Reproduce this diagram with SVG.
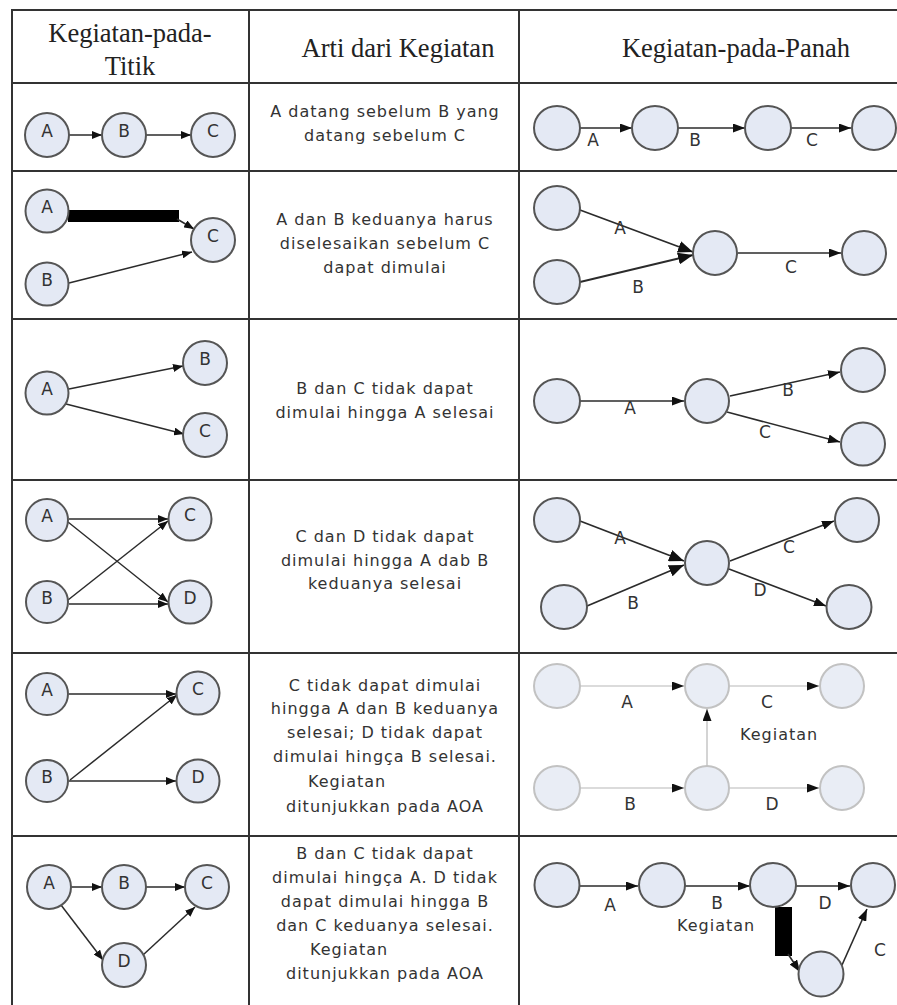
<svg xmlns="http://www.w3.org/2000/svg" width="897" height="1005" viewBox="0 0 897 1005">
  <defs>
    <style>
      .grid { stroke:#333; stroke-width:2; fill:none; }
      .hdr { font-family:"Liberation Serif","Times New Roman",serif; font-size:26.5px; fill:#222; text-anchor:middle; }
      .desc { font-family:"DejaVu Sans",Verdana,sans-serif; font-size:16px; letter-spacing:1px; fill:#333; text-anchor:middle; }
      .desc .l { text-anchor:start; }
      .n circle, .n ellipse { fill:#e4e9f4; stroke:#555; stroke-width:2; }
      .nf ellipse { fill:#e9edf5; stroke:#c2c2c2; stroke-width:2; }
      .lbl { font-family:"DejaVu Sans",Verdana,sans-serif; font-size:17px; fill:#333; text-anchor:middle; }
      .e { stroke:#2b2b2b; stroke-width:1.5; fill:none; marker-end:url(#ah); }
      .e3 { stroke:#2b2b2b; stroke-width:1.6; fill:none; marker-end:url(#ahL); }
      .eb { stroke:#2b2b2b; stroke-width:1.8; fill:none; marker-end:url(#ahB); }
      .ef { stroke:#b8b8b8; stroke-width:1.2; fill:none; marker-end:url(#ahL); }
      .thick { stroke:#000; fill:none; stroke-linecap:butt; }
    </style>
    <marker id="ah" markerUnits="userSpaceOnUse" markerWidth="10" markerHeight="8" refX="10" refY="4" orient="auto">
      <path d="M0,0 L10,4 L0,8 z" fill="#111"/>
    </marker>
    <marker id="ahL" markerUnits="userSpaceOnUse" markerWidth="12" markerHeight="9" refX="12" refY="4.5" orient="auto">
      <path d="M0,0 L12,4.5 L0,9 z" fill="#111"/>
    </marker>
    <marker id="ahB" markerUnits="userSpaceOnUse" markerWidth="15" markerHeight="12" refX="15" refY="6" orient="auto">
      <path d="M0,0 L15,6 L0,12 z" fill="#111"/>
    </marker>
  </defs>

  <rect width="897" height="1005" fill="#fff"/>

  <!-- table grid -->
  <g id="grid" class="grid">
    <line x1="12" y1="10" x2="897" y2="10"/>
    <line x1="12" y1="83" x2="897" y2="83"/>
    <line x1="12" y1="171" x2="897" y2="171"/>
    <line x1="12" y1="319" x2="897" y2="319"/>
    <line x1="12" y1="480" x2="897" y2="480"/>
    <line x1="12" y1="653" x2="897" y2="653"/>
    <line x1="12" y1="836" x2="897" y2="836"/>
    <line x1="12" y1="9" x2="12" y2="1005"/>
    <line x1="249" y1="9" x2="249" y2="1005"/>
    <line x1="519" y1="9" x2="519" y2="1005"/>
  </g>

  <!-- column headers -->
  <g id="headers" class="hdr">
    <text x="130" y="42">Kegiatan-pada-</text>
    <text x="130" y="75">Titik</text>
    <text x="398" y="57">Arti dari Kegiatan</text>
    <text x="736" y="57">Kegiatan-pada-Panah</text>
  </g>

  <!-- meaning column -->
  <g id="descriptions" class="desc">
    <text x="385" y="117">A datang sebelum B yang</text>
    <text x="385" y="141">datang sebelum C</text>

    <text x="385" y="225">A dan B keduanya harus</text>
    <text x="385" y="249">diselesaikan sebelum C</text>
    <text x="385" y="273">dapat dimulai</text>

    <text x="385" y="394">B dan C tidak dapat</text>
    <text x="385" y="418">dimulai hingga A selesai</text>

    <text x="385" y="542">C dan D tidak dapat</text>
    <text x="385" y="566">dimulai hingga A dab B</text>
    <text x="385" y="589">keduanya selesai</text>

    <text x="385" y="691">C tidak dapat dimulai</text>
    <text x="385" y="714">hingga A dan B keduanya</text>
    <text x="385" y="738">selesai; D tidak dapat</text>
    <text x="385" y="762">dimulai hingça B selesai.</text>
    <text class="l" x="308" y="787">Kegiatan</text>
    <text x="385" y="812">ditunjukkan pada AOA</text>

    <text x="385" y="859">B dan C tidak dapat</text>
    <text x="385" y="883">dimulai hingça A. D tidak</text>
    <text x="385" y="907">dapat dimulai hingga B</text>
    <text x="385" y="931">dan C keduanya selesai.</text>
    <text class="l" x="310" y="955">Kegiatan</text>
    <text x="385" y="979">ditunjukkan pada AOA</text>
  </g>

  <!-- connectors -->
  <g id="connectors">
    <!-- activity-on-node, row 1 -->
    <line class="e" x1="69" y1="135" x2="102" y2="135"/>
    <line class="e" x1="146" y1="135" x2="191" y2="135"/>
    <!-- row 2 -->
    <path class="thick" d="M68,216 H179" stroke-width="12"/>
    <line class="e" x1="177" y1="219" x2="194" y2="229" stroke-width="2.5"/>
    <line class="e" x1="69" y1="283" x2="192" y2="252"/>
    <!-- row 3 -->
    <line class="e" x1="69" y1="389" x2="183" y2="366"/>
    <line class="e" x1="66" y1="404" x2="184" y2="434"/>
    <!-- row 4 -->
    <line class="e" x1="69" y1="519" x2="168" y2="519"/>
    <line class="e" x1="68" y1="522" x2="168" y2="602"/>
    <line class="e" x1="68" y1="600" x2="168" y2="521"/>
    <line class="e" x1="69" y1="604" x2="168" y2="604"/>
    <!-- row 5 -->
    <line class="e" x1="69" y1="694" x2="176" y2="694"/>
    <line class="e" x1="70" y1="780" x2="177" y2="695"/>
    <line class="e" x1="69" y1="781" x2="176" y2="781"/>
    <!-- row 6 -->
    <line class="e" x1="71" y1="887" x2="102" y2="887"/>
    <line class="e" x1="146" y1="887" x2="185" y2="887"/>
    <line class="e" x1="61" y1="905" x2="103" y2="960"/>
    <line class="e" x1="143" y1="955" x2="195" y2="907"/>

    <!-- activity-on-arrow, row 1 -->
    <line class="e3" x1="580" y1="128" x2="632" y2="128"/>
    <line class="e3" x1="678" y1="128" x2="745" y2="128"/>
    <line class="e3" x1="791" y1="128" x2="851" y2="128"/>
    <!-- row 2 -->
    <line class="eb" x1="580" y1="210" x2="693" y2="252"/>
    <line class="eb" x1="580" y1="282" x2="693" y2="255"/>
    <line class="e3" x1="738" y1="253" x2="841" y2="253"/>
    <!-- row 3 -->
    <line class="e3" x1="580" y1="401" x2="684" y2="401"/>
    <line class="e3" x1="730" y1="396" x2="840" y2="372"/>
    <line class="e3" x1="727" y1="412" x2="840" y2="442"/>
    <!-- row 4 -->
    <line class="eb" x1="580" y1="521" x2="684" y2="561"/>
    <line class="eb" x1="587" y1="606" x2="684" y2="565"/>
    <line class="e3" x1="730" y1="561" x2="834" y2="521"/>
    <line class="e3" x1="729" y1="569" x2="826" y2="606"/>
    <!-- row 5 -->
    <line class="ef" x1="580" y1="686" x2="684" y2="686"/>
    <line class="ef" x1="730" y1="686" x2="819" y2="686"/>
    <line class="ef" x1="580" y1="788" x2="684" y2="788"/>
    <line class="ef" x1="730" y1="788" x2="819" y2="788"/>
    <line class="ef" x1="707" y1="766" x2="707" y2="709"/>
    <!-- row 6 -->
    <line class="e3" x1="580" y1="886" x2="638" y2="886"/>
    <line class="e3" x1="685" y1="886" x2="750" y2="886"/>
    <line class="e3" x1="796" y1="886" x2="850" y2="886"/>
    <path class="thick" d="M783.5,907 V956" stroke-width="17"/>
    <line class="e3" x1="788" y1="954" x2="800" y2="972" stroke-width="4"/>
    <line class="e3" x1="842" y1="965" x2="867" y2="909"/>
  </g>

  <!-- arrow labels -->
  <g id="arrow-labels" class="lbl">
    <text x="593" y="146">A</text>
    <text x="695" y="146">B</text>
    <text x="812" y="146">C</text>

    <text x="620" y="234">A</text>
    <text x="638" y="293">B</text>
    <text x="791" y="273">C</text>

    <text x="630" y="414">A</text>
    <text x="788" y="396">B</text>
    <text x="765" y="438">C</text>

    <text x="620" y="544">A</text>
    <text x="633" y="609">B</text>
    <text x="789" y="553">C</text>
    <text x="760" y="596">D</text>

    <text x="627" y="708">A</text>
    <text x="767" y="708">C</text>
    <text x="740" y="740" style="text-anchor:start;font-size:16px;letter-spacing:1px">Kegiatan</text>
    <text x="630" y="810">B</text>
    <text x="772" y="810">D</text>

    <text x="610" y="911">A</text>
    <text x="717" y="909">B</text>
    <text x="677" y="931" style="text-anchor:start;font-size:16px;letter-spacing:1px">Kegiatan</text>
    <text x="825" y="909">D</text>
    <text x="880" y="956">C</text>
  </g>

  <!-- activity-on-node diagrams -->
  <g id="aon-r1-A" class="n"><circle cx="47" cy="135" r="22"/><text class="lbl" x="47" y="137">A</text></g>
  <g id="aon-r1-B" class="n"><circle cx="124" cy="135" r="22"/><text class="lbl" x="124" y="137">B</text></g>
  <g id="aon-r1-C" class="n"><circle cx="213" cy="135" r="22"/><text class="lbl" x="213" y="137">C</text></g>

  <g id="aon-r2-A" class="n"><circle cx="47" cy="211" r="21.5"/><text class="lbl" x="47" y="213">A</text></g>
  <g id="aon-r2-B" class="n"><circle cx="47" cy="284" r="21.5"/><text class="lbl" x="47" y="286">B</text></g>
  <g id="aon-r2-C" class="n"><circle cx="213" cy="240" r="22"/><text class="lbl" x="213" y="242">C</text></g>

  <g id="aon-r3-A" class="n"><circle cx="47" cy="393" r="21.5"/><text class="lbl" x="47" y="395">A</text></g>
  <g id="aon-r3-B" class="n"><circle cx="205" cy="363" r="22"/><text class="lbl" x="205" y="365">B</text></g>
  <g id="aon-r3-C" class="n"><circle cx="205" cy="435" r="22"/><text class="lbl" x="205" y="437">C</text></g>

  <g id="aon-r4-A" class="n"><circle cx="47" cy="520" r="21"/><text class="lbl" x="47" y="522">A</text></g>
  <g id="aon-r4-C" class="n"><circle cx="190" cy="519" r="21.5"/><text class="lbl" x="190" y="521">C</text></g>
  <g id="aon-r4-B" class="n"><circle cx="47" cy="602" r="21"/><text class="lbl" x="47" y="604">B</text></g>
  <g id="aon-r4-D" class="n"><circle cx="190" cy="602" r="21.5"/><text class="lbl" x="190" y="604">D</text></g>

  <g id="aon-r5-A" class="n"><circle cx="47" cy="694" r="21"/><text class="lbl" x="47" y="696">A</text></g>
  <g id="aon-r5-C" class="n"><circle cx="198" cy="693" r="21.5"/><text class="lbl" x="198" y="695">C</text></g>
  <g id="aon-r5-B" class="n"><circle cx="47" cy="781" r="21"/><text class="lbl" x="47" y="783">B</text></g>
  <g id="aon-r5-D" class="n"><circle cx="198" cy="781" r="21.5"/><text class="lbl" x="198" y="783">D</text></g>

  <g id="aon-r6-A" class="n"><circle cx="49" cy="887" r="22"/><text class="lbl" x="49" y="889">A</text></g>
  <g id="aon-r6-B" class="n"><circle cx="124" cy="887" r="22"/><text class="lbl" x="124" y="889">B</text></g>
  <g id="aon-r6-C" class="n"><circle cx="207" cy="887" r="22"/><text class="lbl" x="207" y="889">C</text></g>
  <g id="aon-r6-D" class="n"><circle cx="124" cy="965" r="22"/><text class="lbl" x="124" y="967">D</text></g>

  <!-- activity-on-arrow events -->
  <g id="aoa-r1-1" class="n"><ellipse cx="557" cy="128" rx="23" ry="22"/></g>
  <g id="aoa-r1-2" class="n"><ellipse cx="655" cy="128" rx="23" ry="22"/></g>
  <g id="aoa-r1-3" class="n"><ellipse cx="768" cy="128" rx="23" ry="22"/></g>
  <g id="aoa-r1-4" class="n"><ellipse cx="874" cy="128" rx="22" ry="22"/></g>

  <g id="aoa-r2-1" class="n"><ellipse cx="557" cy="208" rx="23" ry="22"/></g>
  <g id="aoa-r2-2" class="n"><ellipse cx="557" cy="282" rx="23" ry="22"/></g>
  <g id="aoa-r2-3" class="n"><ellipse cx="715" cy="253" rx="22" ry="22"/></g>
  <g id="aoa-r2-4" class="n"><ellipse cx="864" cy="253" rx="22" ry="22"/></g>

  <g id="aoa-r3-1" class="n"><ellipse cx="557" cy="401" rx="23" ry="22"/></g>
  <g id="aoa-r3-2" class="n"><ellipse cx="707" cy="401" rx="22" ry="22"/></g>
  <g id="aoa-r3-3" class="n"><ellipse cx="863" cy="370" rx="22" ry="22"/></g>
  <g id="aoa-r3-4" class="n"><ellipse cx="863" cy="444" rx="22" ry="21.5"/></g>

  <g id="aoa-r4-1" class="n"><ellipse cx="557" cy="520" rx="23" ry="22"/></g>
  <g id="aoa-r4-2" class="n"><ellipse cx="564" cy="607" rx="23" ry="22"/></g>
  <g id="aoa-r4-3" class="n"><ellipse cx="707" cy="563" rx="22" ry="22"/></g>
  <g id="aoa-r4-4" class="n"><ellipse cx="857" cy="520" rx="22" ry="22"/></g>
  <g id="aoa-r4-5" class="n"><ellipse cx="849" cy="607" rx="22.5" ry="22"/></g>

  <g id="aoa-r5-1" class="nf"><ellipse cx="557" cy="686" rx="23" ry="22"/></g>
  <g id="aoa-r5-2" class="nf"><ellipse cx="707" cy="686" rx="22" ry="22"/></g>
  <g id="aoa-r5-3" class="nf"><ellipse cx="842" cy="686" rx="22" ry="22"/></g>
  <g id="aoa-r5-4" class="nf"><ellipse cx="557" cy="788" rx="23" ry="22"/></g>
  <g id="aoa-r5-5" class="nf"><ellipse cx="707" cy="788" rx="22" ry="22"/></g>
  <g id="aoa-r5-6" class="nf"><ellipse cx="842" cy="788" rx="22" ry="22"/></g>

  <g id="aoa-r6-1" class="n"><ellipse cx="557" cy="885" rx="22.5" ry="22"/></g>
  <g id="aoa-r6-2" class="n"><ellipse cx="662" cy="885" rx="23" ry="22"/></g>
  <g id="aoa-r6-3" class="n"><ellipse cx="773" cy="885" rx="23" ry="22"/></g>
  <g id="aoa-r6-4" class="n"><ellipse cx="873" cy="885" rx="22" ry="22"/></g>
  <g id="aoa-r6-5" class="n"><ellipse cx="821" cy="974" rx="22.5" ry="22.5"/></g>
</svg>
